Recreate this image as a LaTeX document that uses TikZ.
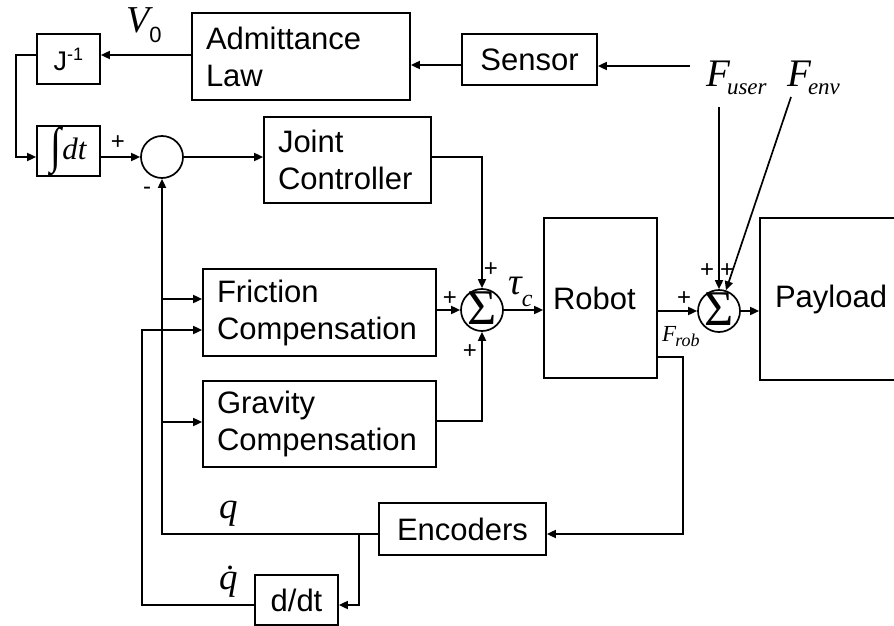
\documentclass[tikz,border=0pt]{standalone}
\usepackage{fontspec}
\setmainfont{Liberation Sans}
\newfontfamily\tms{Liberation Serif}
\usetikzlibrary{arrows.meta}
\newcommand\sigmark{\makebox[0pt]{\smash{\raisebox{-14pt}{\tms\fontsize{50}{50}\selectfont Σ}}}}
\begin{document}
\begin{tikzpicture}[x=1pt,y=-1pt,
  ln/.style={line width=1.7pt},
  arr/.style={ln,-{Triangle[length=9pt,width=8pt]}},
  blk/.style={draw,line width=1.7pt,inner sep=0pt,align=left,font=\fontsize{31}{37}\selectfont},
  sumc/.style={draw,circle,line width=1.7pt,minimum size=42pt,inner sep=0pt},
  pm/.style={inner sep=0pt,font=\fontsize{24}{24}\selectfont},
  mth/.style={inner sep=0pt,font=\tms\itshape},
]
\useasboundingbox (0,0) rectangle (894,626);
\clip (0,0) rectangle (894,626);

% blocks
\node[blk,minimum width=63pt,minimum height=50pt,font=\fontsize{27}{27}\selectfont] (jinv) at (68.5,59) {J\raisebox{10pt}{\fontsize{18}{18}\selectfont -1}};
\node[blk,minimum width=218pt,minimum height=87pt,text width=190pt] (adm) at (301,56.5) {Admittance\\Law};
\node[blk,minimum width=135pt,minimum height=51pt] (sens) at (529.5,59.5) {Sensor};
\node[blk,minimum width=63pt,minimum height=50pt] (integ) at (68.5,151) {\raisebox{-3pt}{\scalebox{1}[1.25]{\tms\fontsize{40}{40}\selectfont ∫}}\kern1pt{\tms\itshape\fontsize{31}{31}\selectfont dt}};
\node[blk,minimum width=167pt,minimum height=86pt,text width=139pt] (joint) at (347.5,160) {Joint\\Controller};
\node[blk,minimum width=233pt,minimum height=87pt,text width=205pt] (fric) at (319.5,312.5) {Friction\\Compensation};
\node[blk,minimum width=233pt,minimum height=86pt,text width=205pt] (grav) at (319.5,424) {Gravity\\Compensation};
\node[blk,minimum width=113pt,minimum height=160pt,text width=95pt] (robot) at (600.5,298) {Robot};
\node[blk,minimum width=150pt,minimum height=162pt,text width=120pt] (payload) at (835,299) {Payload};
\node[blk,minimum width=167pt,minimum height=52pt] (enc) at (462.5,529) {Encoders};
\node[blk,minimum width=83pt,minimum height=50pt] (ddt) at (296.5,600) {d/dt};

% summing junctions
\node[sumc] (s0) at (162,157) {};
\node[sumc] (s1) at (482,310) {\sigmark};
\node[sumc] (s2) at (719,311) {\sigmark};

% free ends
\coordinate (fin) at (690,66);
\coordinate (fu) at (719,107);
\coordinate (fe) at (791,97);

% forward connectors
\draw[arr] (fin) -- (sens.east |- fin);
\draw[arr] (sens.west |- 0,65) -- (adm.east |- 0,65);
\draw[arr] (adm.west |- 0,55) -- (jinv.east |- 0,55);
\draw[arr] (jinv.west |- 0,55) -- (16,55) |- (integ.west |- s0);
\draw[arr] (integ.east |- s0) -- (s0);
\draw[arr] (s0) -- (joint.west |- s0);
\draw[arr] (joint.east |- s0) -| (s1);
\draw[arr] (fric.east |- s1) -- (s1);
\draw[arr] (grav.east |- 0,421) -| (s1);
\draw[arr] (s1) -- (robot.west |- s1);
\draw[arr] (robot.east |- s2) -- (s2);
\draw[arr] (s2) -- (payload.west |- s2);
\draw[arr] (fu) -- (s2);
\draw[arr] (fe) -- (s2);

% feedback
\draw[arr] (robot.east |- 0,357) -| (683,534) -- (enc.east |- 0,534);
\draw[arr] (enc.west |- 0,534) -| (s0);
\draw[arr] (162,299) -- (fric.west |- 0,299);
\draw[arr] (162,422) -- (grav.west |- 0,422);
\draw[arr] (359,534) |- (ddt.east |- 0,605);
\draw[arr] (ddt.west |- 0,605) -| (142,330) -- (fric.west |- 0,330);

% signs
\node[pm] (p0) at (118,143) {+};
\node[pm] (m0) at (147,191) {-};
\node[pm] (p1t) at (491,270) {+};
\node[pm] (p1l) at (450,299) {+};
\node[pm] (p1b) at (470,352) {+};
\node[pm] (p2l) at (684,299) {+};
\node[pm] (p2a) at (707,271) {+};
\node[pm] (p2b) at (727,271) {+};

% math labels
\node[mth,anchor=base west] (lv) at (126,33) {\fontsize{38}{38}\selectfont V\raisebox{-10pt}{\normalfont\fontsize{22}{22}\selectfont 0}};
\node[mth,anchor=base west] (lfu) at (706,86) {\fontsize{39}{39}\selectfont F\kern-3pt\raisebox{-9pt}{\fontsize{23}{23}\selectfont user}};
\node[mth,anchor=base west] (lfe) at (787,86) {\fontsize{39}{39}\selectfont F\kern-3pt\raisebox{-9pt}{\fontsize{23}{23}\selectfont env}};
\node[mth,anchor=base west] (lfr) at (662,341) {\fontsize{23}{23}\selectfont F\kern-1pt\raisebox{-5pt}{\fontsize{18}{18}\selectfont rob}};
\node[mth,anchor=base west] (ltau) at (508,294) {\fontsize{38}{38}\selectfont τ\raisebox{-12pt}{\fontsize{24}{24}\selectfont c}};
\node[mth,anchor=base west] (lq) at (219,518) {\fontsize{37}{37}\selectfont q};
\node[mth,anchor=base west] (lqd) at (219,589) {\fontsize{37}{37}\selectfont \.{q}};
\end{tikzpicture}
\end{document}
